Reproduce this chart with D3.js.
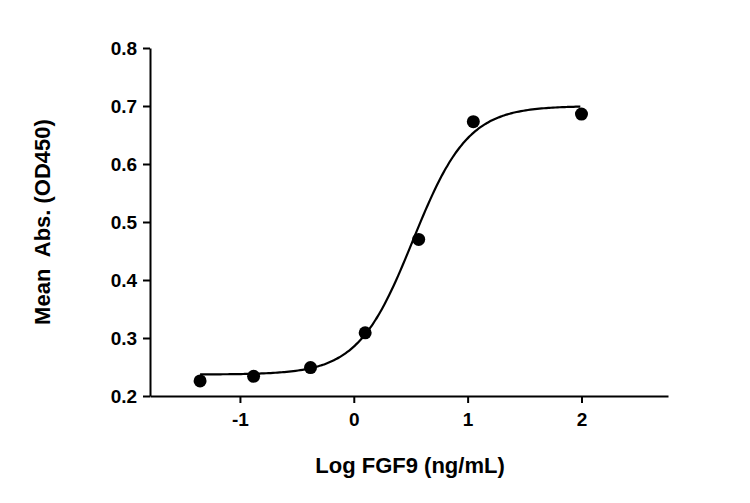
<!DOCTYPE html>
<html><head><meta charset="utf-8">
<script src="https://cdn.jsdelivr.net/npm/d3@7"></script>
<style>body{margin:0;background:#fff}</style></head>
<body><svg id="c" width="750" height="503"></svg>
<script>
const logConc = [-1.35, -0.88, -0.38, 0.10, 0.57, 1.05, 2.00];
const meanAbs = [0.226, 0.234, 0.249, 0.309, 0.470, 0.673, 0.686];
const xTicks = [-1, 0, 1, 2];
const yTicks = [0.2, 0.3, 0.4, 0.5, 0.6, 0.7, 0.8];
const fitBottom = 0.237, fitTop = 0.700, fitLogEC50 = 0.52, fitHill = 1.8;

const svg = d3.select("#c");
const x = d3.scaleLinear().domain([-1.79, 2.76]).range([150, 668]);
const y = d3.scaleLinear().domain([0.2, 0.8]).range([396, 48]);
const font = "Arial, 'Liberation Sans', sans-serif";

const xa = svg.append("g").attr("transform","translate(0,396)")
  .call(d3.axisBottom(x).tickValues(xTicks).tickFormat(d => String(d)).tickSize(7).tickSizeOuter(0));
const ya = svg.append("g").attr("transform","translate(150,0)")
  .call(d3.axisLeft(y).tickValues(yTicks).tickFormat(d3.format(".1f")).tickSize(7).tickSizeOuter(0));
[xa, ya].forEach(a => {
  a.selectAll("path,line").attr("stroke","#000").attr("stroke-width",2);
  a.selectAll("text").attr("font-family",font).attr("font-size",19).attr("font-weight","bold").attr("fill","#000");
});
xa.selectAll("text").attr("dy","1.05em");
ya.selectAll("text").attr("dx","-0.15em");

const f = v => fitBottom + (fitTop - fitBottom) / (1 + Math.pow(10, (fitLogEC50 - v) * fitHill));
const xs = d3.range(-1.35, 2.0001, 0.02);
svg.append("path").datum(xs)
  .attr("d", d3.line().x(d => x(d)).y(d => y(f(d))).curve(d3.curveMonotoneX))
  .attr("fill","none").attr("stroke","#000").attr("stroke-width",2.2);

svg.selectAll("circle.p").data(logConc).enter().append("circle")
  .attr("cx", d => x(d)).attr("cy", (d,i) => y(meanAbs[i])).attr("r", 6.5).attr("fill","#000");

svg.append("text").attr("x",410).attr("y",473).attr("text-anchor","middle")
  .attr("font-family",font).attr("font-size",22).attr("font-weight","bold").text("Log FGF9 (ng/mL)");
svg.append("text").attr("transform","translate(50,222) rotate(-90)").attr("text-anchor","middle")
  .attr("font-family",font).attr("font-size",22).attr("font-weight","bold").attr("xml:space","preserve").text("Mean  Abs. (OD450)");
</script></body></html>
